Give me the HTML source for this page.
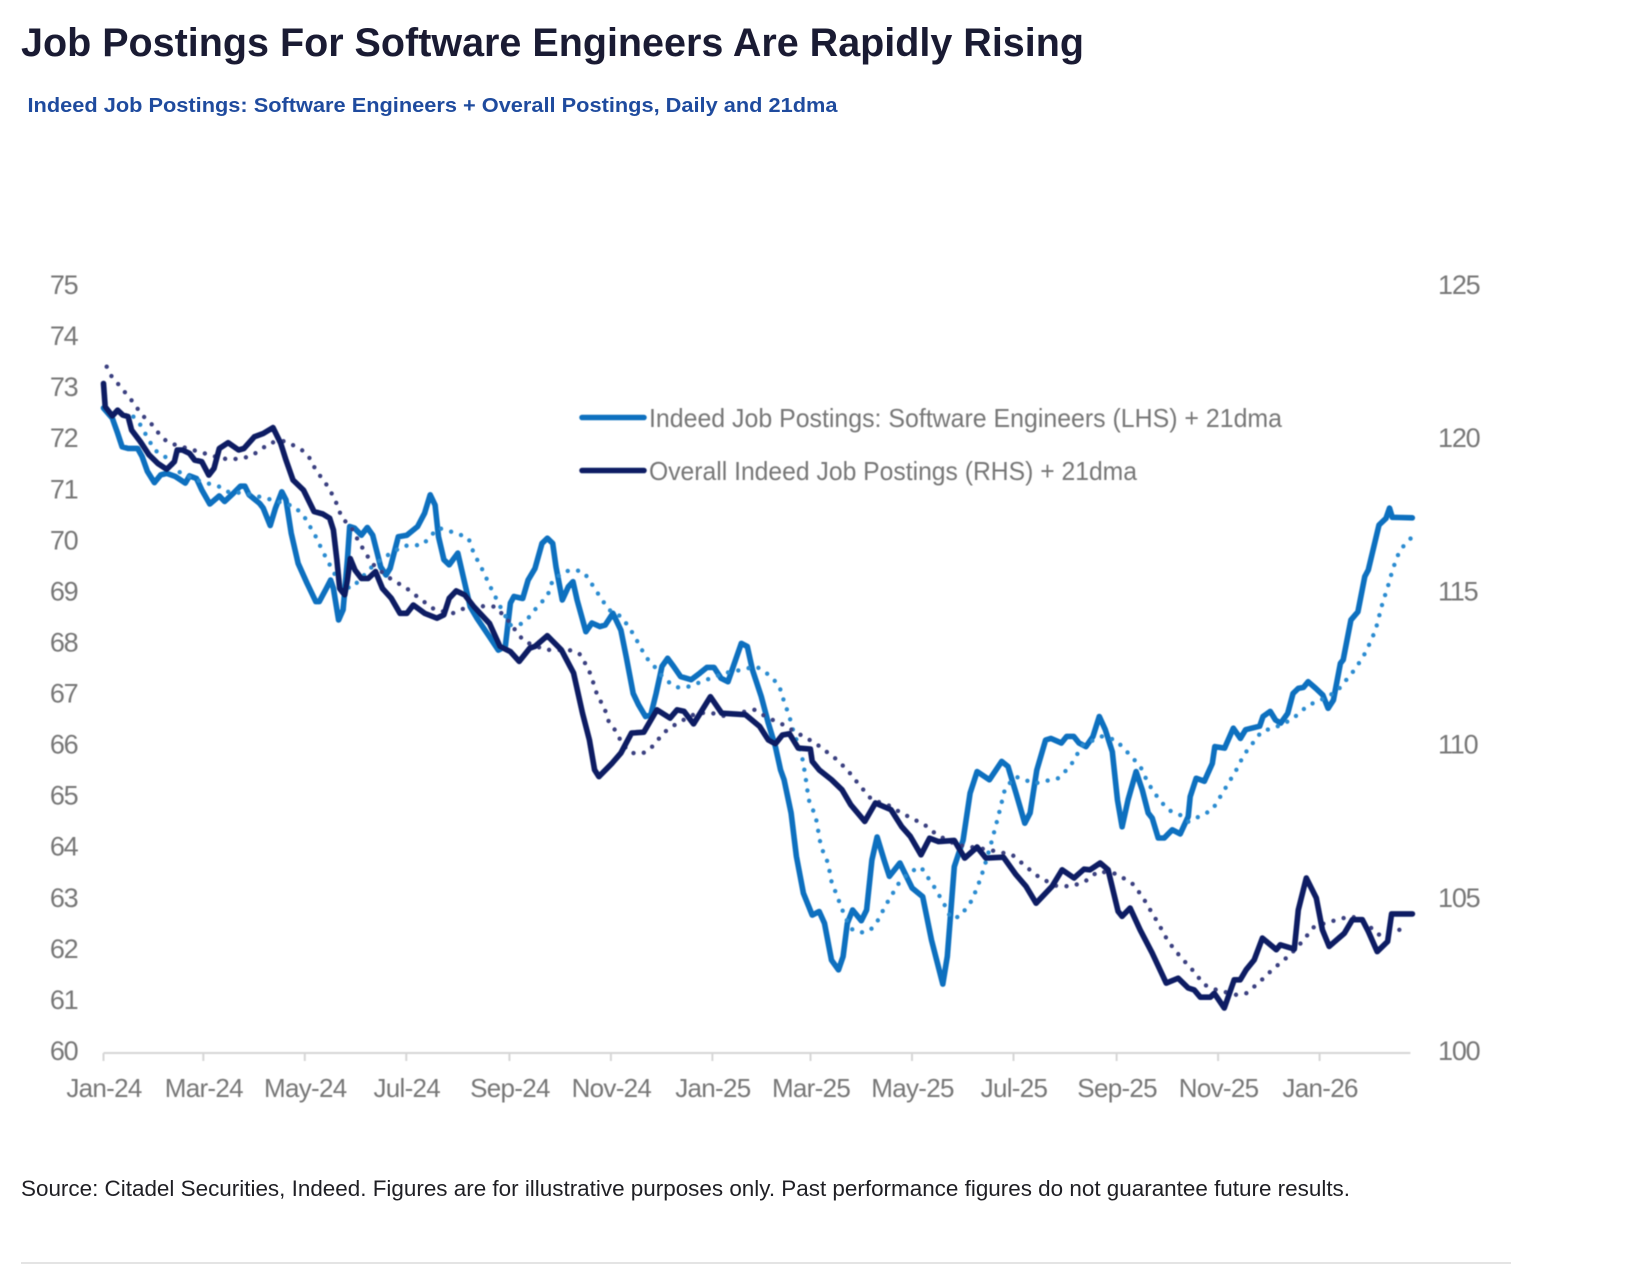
<!DOCTYPE html>
<html lang="en">
<head>
<meta charset="utf-8">
<title>Job Postings For Software Engineers Are Rapidly Rising</title>
<style>
html,body{margin:0;padding:0;background:#fff;}
svg{display:block;font-family:"Liberation Sans",sans-serif;}
</style>
</head>
<body>
<svg id="chart" width="1628" height="1276" viewBox="0 0 1628 1276" xmlns="http://www.w3.org/2000/svg">
  <defs>
    <filter id="soft" x="-5%" y="-5%" width="110%" height="110%"><feGaussianBlur stdDeviation="0.55"/></filter>
  </defs>
  <text x="21" y="56" font-size="40" font-weight="700" fill="#1a1b33" textLength="1063" lengthAdjust="spacingAndGlyphs">Job Postings For Software Engineers Are Rapidly Rising</text>
  <text x="27.5" y="112" font-size="20" font-weight="700" fill="#1f4b9e" textLength="810" lengthAdjust="spacingAndGlyphs">Indeed Job Postings: Software Engineers + Overall Postings, Daily and 21dma</text>
  <g id="plot" filter="url(#soft)"></g>
  <g filter="url(#soft)">
    <line x1="582" y1="417.5" x2="644" y2="417.5" stroke="#0f70bf" stroke-width="5.5" stroke-linecap="round"/>
    <text x="649" y="427" font-size="26" fill="#777777" textLength="633" lengthAdjust="spacingAndGlyphs">Indeed Job Postings: Software Engineers (LHS) + 21dma</text>
    <line x1="582" y1="470.5" x2="644" y2="470.5" stroke="#0b1f63" stroke-width="5.5" stroke-linecap="round"/>
    <text x="649" y="480" font-size="26" fill="#777777" textLength="488" lengthAdjust="spacingAndGlyphs">Overall Indeed Job Postings (RHS) + 21dma</text>
  </g>
  <text x="21" y="1196" font-size="22" fill="#1f1f24" textLength="1329" lengthAdjust="spacingAndGlyphs">Source: Citadel Securities, Indeed. Figures are for illustrative purposes only. Past performance figures do not guarantee future results.</text>
  <line x1="21" y1="1263" x2="1511" y2="1263" stroke="#e4e4e4" stroke-width="2"/>
</svg>
<script>
const leftTicks = [60,61,62,63,64,65,66,67,68,69,70,71,72,73,74,75];
const rightTicks = [100,105,110,115,120,125];
const monthLabels = ['Jan-24','Mar-24','May-24','Jul-24','Sep-24','Nov-24','Jan-25','Mar-25','May-25','Jul-25','Sep-25','Nov-25','Jan-26'];
const monthDays = [0,60,121,182,244,305,366,425,486,547,609,670,731];

const softwareDays = [0,5.3,8.5,11.2,14.8,20.5,23.2,26.4,30.6,34.4,38,43.2,49.2,51.7,55.9,59,63.9,69.6,72.8,78,82.3,85,87.5,93.9,96,100.2,103.4,107.2,109.7,112.8,117,122.3,127.6,129.7,134,136.5,138.2,141.3,144,146.6,148,150.8,155,158.6,161.8,166.6,169.8,172.3,177.2,182.4,188.8,193,196.4,199.3,201.4,204.6,207.8,213,216.2,220.4,224.6,232,237.3,241.5,244.6,246.7,252,255.2,259.4,263.6,266.8,270,272,275.8,279.4,282.2,284.7,290,293.6,298.4,301.6,306.2,311,314.2,318.4,321.6,325.8,329,332.2,335.7,339.1,342.7,346.9,353.2,358.5,362.7,367,371.2,375.4,378.6,383.4,387,390.1,395.4,399.6,403.9,407,409.1,413.3,416.5,420.7,426,430.2,433.4,437.6,441.8,444.6,447.1,450.3,455.5,458.7,461.9,465,469.2,472.4,478.7,486.1,492.4,497.7,504.5,507.2,511.4,516.7,520.9,525.1,532.5,539.9,543.7,548.5,553.8,557,561,566.3,569.5,575.8,579,583.2,586.4,590.6,594.8,598.6,602.2,606.4,609.5,612.3,615.9,620.7,624.4,628,630.4,634,637.6,642.4,647.2,652,653.2,656.8,661.7,666.5,668,673.9,679.1,683.4,686.5,695,697,701.3,704.5,707.6,711.8,715,718.2,721.3,724.1,728.7,732.9,736.1,739.3,743.5,745.2,749.8,754,758.2,760.3,766.7,770.9,773,774.7,786.7];
const softwareValues = [72.63,72.43,72.14,71.87,71.84,71.84,71.68,71.39,71.17,71.32,71.35,71.29,71.16,71.3,71.25,71.03,70.75,70.91,70.8,70.96,71.1,71.1,70.93,70.76,70.67,70.33,70.67,70.99,70.83,70.18,69.59,69.2,68.84,68.84,69.1,69.26,69.1,68.48,68.68,69.66,70.31,70.28,70.14,70.29,70.14,69.52,69.36,69.49,70.11,70.14,70.31,70.57,70.93,70.73,70.11,69.66,69.56,69.79,69.33,68.74,68.51,68.15,67.89,67.96,68.81,68.94,68.9,69.26,69.49,69.98,70.08,69.98,69.52,68.87,69.13,69.23,68.87,68.25,68.42,68.35,68.38,68.61,68.28,67.76,67.04,66.82,66.59,66.62,67.04,67.57,67.73,67.57,67.37,67.31,67.44,67.55,67.55,67.34,67.27,67.57,68.02,67.96,67.5,66.98,66.46,66,65.54,65.35,64.7,63.85,63.13,62.7,62.77,62.54,61.82,61.63,61.89,62.54,62.8,62.59,62.8,63.78,64.23,63.78,63.46,63.72,63.23,63.06,62.21,61.35,61.89,63.65,64.17,65.09,65.51,65.35,65.71,65.61,65.09,64.5,64.7,65.54,66.13,66.16,66.07,66.2,66.2,66.07,66,66.2,66.59,66.33,65.9,64.95,64.43,64.96,65.51,65.15,64.7,64.6,64.21,64.21,64.37,64.29,64.63,65.02,65.38,65.32,65.67,66,65.97,66.36,66.16,66.33,66.4,66.59,66.69,66.52,66.46,66.65,67.04,67.14,67.16,67.27,67.14,67.01,66.75,66.91,67.63,67.7,68.48,68.64,69.33,69.46,70.34,70.47,70.67,70.49,70.48];

const softwareMaDays = [18,22.2,30.6,36.9,45.4,55.9,69.6,74.9,85.4,100.2,115,121.3,127.6,131.8,137.1,142.4,148.7,152.9,161.4,167.7,173,180.3,191.9,198.3,201.4,212,219.4,222.5,227.8,233,239.4,244.6,250,256.3,261.5,266.8,270,277.3,283.6,288.9,295.2,298.4,303.7,311,316.3,321.6,325.8,331.1,335.3,340.6,344.8,351.1,362.7,373.3,382.8,392.3,398.6,406,409.1,412.3,414.4,419.7,421.8,423.9,428.1,431.3,435.5,437.6,441.8,446,450.3,455.5,460.8,465,470.3,474.5,478.7,485,491.4,499.8,506.1,509.3,514.6,520.9,525.1,529.3,533.6,537.8,542,548.3,559.9,573.8,581,588.5,600,608.5,618,623.3,628,634,640,647.2,652,660.5,666.5,673.7,680.9,685.5,696,707.6,715,724.5,729.8,741.4,751.9,757.2,760.3,764.6,768.8,772,775.1,779.3,786.7];
const softwareMaValues = [72.46,72.3,71.81,71.68,71.38,71.22,71.09,70.99,70.96,70.84,70.7,70.47,70.11,69.82,69.49,69.17,69.1,69.23,69.52,69.69,69.79,69.93,69.95,70.18,70.28,70.18,70.08,69.79,69.46,69.1,68.68,68.38,68.38,68.55,68.77,68.94,69.26,69.43,69.46,69.41,69.1,68.94,68.68,68.55,68.32,68.02,67.76,67.57,67.4,67.24,67.16,67.17,67.31,67.44,67.5,67.57,67.44,67.21,66.88,66.59,66.33,65.84,65.45,64.96,64.63,64.04,63.72,63.36,63,62.64,62.41,62.36,62.4,62.57,62.9,63.13,63.36,63.55,63.64,63.23,62.87,62.64,62.67,62.93,63.23,63.62,64.11,64.63,65.19,65.41,65.28,65.38,65.61,66.03,66.2,66.13,65.8,65.61,65.28,64.99,64.76,64.66,64.53,64.66,64.76,65.15,65.54,65.84,66.29,66.42,66.55,66.82,66.88,67.08,67.5,67.76,67.96,68.28,68.81,69.13,69.49,69.85,70.11];

const overallDays = [0,1,5.3,8.5,11.6,14.8,16.9,22.2,27.4,32.7,38,42.6,44.3,47.5,51.7,54.8,59,63.3,66.4,69.6,74.9,81.2,84.4,90.7,96,101.9,106.5,109.7,113.9,120.2,126.6,131.8,136,138.2,140.3,142,145,146.6,148.3,151.2,155,159.2,163.5,167.7,173,178.2,182.4,186.2,193,200.4,204.6,207.8,212,217.2,222.5,232,238.3,244.6,249.9,256.2,259.4,266.8,275.2,282.6,287.9,292.1,295.2,297.8,305.8,311,317.4,324.8,332.6,340.6,344.8,349,354.7,364.8,371.6,385.9,394.4,399.6,403.9,408.1,412.3,417.6,424.9,426,430.2,437.6,443.9,449.2,457.6,464,473.4,479.8,485,491.4,496.6,502,511.4,517.7,525.1,530.4,541,548.5,554.5,560.6,570.2,576.2,583.4,589.4,593,599.1,603.9,609.9,612.3,617.1,623.1,630.4,638.8,646,652,655.6,659.3,665.3,667.7,673.7,679.7,683.3,686.9,691.7,696.6,705,707.4,715.8,718.2,723,729,732.7,736.8,745.9,750.7,756.7,760.3,765.6,771.9,774.3,786.8];
const overallValues = [121.85,121.09,120.79,120.98,120.82,120.77,120.33,119.95,119.52,119.24,119.05,119.3,119.68,119.68,119.57,119.35,119.3,118.86,119.08,119.73,119.92,119.68,119.73,120.11,120.22,120.41,119.9,119.35,118.7,118.37,117.67,117.59,117.45,117.07,116.09,115.16,114.95,115.44,116.14,115.76,115.49,115.49,115.71,115.16,114.84,114.35,114.35,114.62,114.35,114.19,114.3,114.84,115.08,114.95,114.57,114.02,113.27,113.1,112.78,113.21,113.27,113.62,113.16,112.4,111.09,110.22,109.24,109.02,109.46,109.79,110.44,110.47,111.2,110.93,111.2,111.15,110.74,111.63,111.09,111.04,110.66,110.22,110.09,110.38,110.42,109.95,109.92,109.52,109.24,108.92,108.59,108.1,107.56,108.16,107.94,107.39,107.07,106.47,107.01,106.9,106.94,106.36,106.72,106.36,106.39,105.82,105.44,104.89,105.44,105.98,105.71,106,105.98,106.2,105.98,104.62,104.46,104.73,104.02,103.26,102.28,102.44,102.12,102.06,101.82,101.82,101.95,101.47,102.39,102.39,102.72,103.04,103.75,103.37,103.53,103.39,104.67,105.71,105.06,104.02,103.48,103.91,104.35,104.35,103.97,103.31,103.64,104.54,104.54];

const overallMaDays = [1.9,4.2,10.6,17.5,23.2,28.5,34.8,39,70.7,77,82.3,87.5,92.8,100.2,108.6,113.9,119.2,123.4,127.6,135,139.2,143.4,148.7,152.9,158.2,162.4,170.8,177.2,182.4,189.8,199.3,209.9,221.5,229.9,235.2,238.3,244.6,248.8,253,265.7,281.5,286.8,292.1,295.2,297.3,300.5,303.7,306.8,310,315.3,320.6,325.8,331.1,336.4,344.8,356.4,364.8,372.2,380.7,391.2,399.6,407,415.5,422.8,429.2,439.7,447.1,453.4,461.9,471.3,479.8,493.5,500.9,512.5,532.5,546.2,556.8,563,572.6,581,589.4,597.9,608.7,618.3,624.4,629.2,634,640,647.2,654.4,661.7,668.9,680.9,686.9,694.2,702.6,713.4,720.6,727.8,737.5,749.5,756.7,766.4,777.2,783.9];
const overallMaValues = [122.4,122.13,121.72,121.26,120.82,120.55,120.11,119.92,119.41,119.37,119.41,119.46,119.62,119.92,119.97,119.84,119.68,119.46,119.03,118.48,118.05,117.45,117.18,116.74,116.25,115.93,115.54,115.33,115.16,114.84,114.46,114.35,114.62,114.57,114.57,114.41,114.03,113.7,113.43,113.16,113.14,113,112.45,111.96,111.58,111.36,110.82,110.6,110.28,109.84,109.76,109.81,110.06,110.44,110.76,111.09,111.11,111,111.09,111.2,110.93,110.76,110.49,110.27,110.06,109.62,109.24,108.81,108.26,108.1,107.83,107.45,107.12,106.8,106.63,106.47,105.98,105.71,105.46,105.44,105.57,105.93,105.85,105.54,105.11,104.67,104.24,103.64,103.15,102.72,102.23,102.06,101.9,101.95,102.28,102.72,103.21,103.64,104.13,104.29,104.46,104.35,103.86,104.02,104.02];

const NS = 'http://www.w3.org/2000/svg';
const plot = document.getElementById('plot');
const axisX0 = 103.5, pxPerDay = 1.6636, axisY0 = 1053, plotH = 766;
const axisEndDay = 785.6;

function xScale(day){ return axisX0 + day * pxPerDay; }
function yLeft(v){ return axisY0 - (v - 60) / 15 * plotH; }
function yRight(v){ return axisY0 - (v - 100) / 25 * plotH; }

function make(tag, attrs, text){
  const el = document.createElementNS(NS, tag);
  for (const k in attrs) el.setAttribute(k, attrs[k]);
  if (text !== undefined) el.textContent = text;
  plot.appendChild(el);
  return el;
}

const axisLine = make('line', {x1:xScale(0), y1:axisY0, x2:xScale(axisEndDay), y2:axisY0, stroke:'#d6d6d6', 'stroke-width':2});



monthLabels.forEach(function(label, i){
  const x = xScale(monthDays[i]);
  const tick = make('line', {x1:x, y1:axisY0, x2:x, y2:axisY0 + 8, stroke:'#d6d6d6', 'stroke-width':2});
  
  
  const t = make('text', {x:x + 0.5, y:1097, 'text-anchor':'middle', 'font-size':26, 'letter-spacing':'-0.7', fill:'#777777'}, label);
  
  
});

leftTicks.forEach(function(v){
  const t = make('text', {x:77.5, y:yLeft(v) + 7, 'text-anchor':'end', 'font-size':27, 'letter-spacing':'-1.2', fill:'#777777'}, String(v));
  
  
});

rightTicks.forEach(function(v){
  const t = make('text', {x:1438, y:yRight(v) + 7, 'font-size':27, 'letter-spacing':'-1.2', fill:'#777777'}, String(v));
  
  
});

function pathFrom(days, values, yFn){
  return days.map(function(d, i){
    return (i ? 'L' : 'M') + xScale(d).toFixed(1) + ' ' + yFn(values[i]).toFixed(1);
  }).join(' ');
}

const softwareLine = make('path', {d:pathFrom(softwareDays, softwareValues, yLeft), fill:'none', stroke:'#0f70bf', 'stroke-width':5.6, 'stroke-linejoin':'round', 'stroke-linecap':'round'});



const softwareMa = make('path', {d:pathFrom(softwareMaDays, softwareMaValues, yLeft), fill:'none', stroke:'#2a8bd0', 'stroke-width':4.4, 'stroke-linecap':'round', 'stroke-dasharray':'0 10.5'});



const overallMa = make('path', {d:pathFrom(overallMaDays, overallMaValues, yRight), fill:'none', stroke:'#3a4080', 'stroke-width':4.4, 'stroke-linecap':'round', 'stroke-dasharray':'0 10.5'});



const overallLine = make('path', {d:pathFrom(overallDays, overallValues, yRight), fill:'none', stroke:'#0b1f63', 'stroke-width':5.6, 'stroke-linejoin':'round', 'stroke-linecap':'round'});


</script>
</body>
</html>
